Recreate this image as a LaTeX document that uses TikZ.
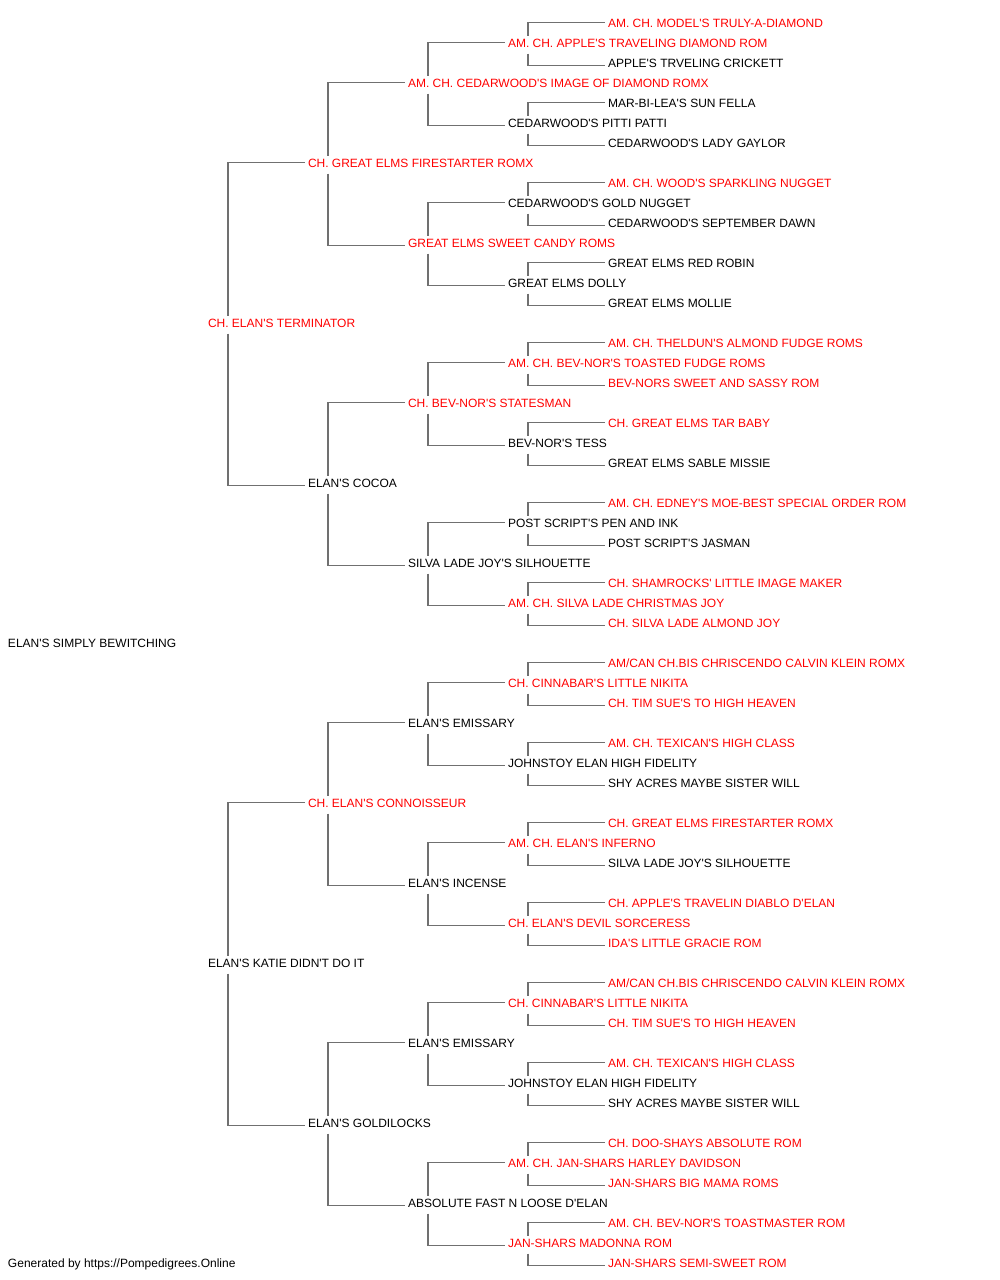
\documentclass[tikz,border=0pt]{standalone}
\usepackage{fontspec}
\setmainfont{Liberation Sans}
\newfontfamily\pfont{Liberation Sans}
\definecolor{lngray}{RGB}{112,112,112}
\definecolor{nmred}{RGB}{255,0,0}
\newcommand\pedconn[3]{%
  \draw[conn] ([shift={(20pt,8pt)}]#1.west) |- ([shift={(-3pt,1pt)}]#2.west);
  \draw[conn] ([shift={(20pt,-10pt)}]#1.west) |- ([shift={(-3pt,-2pt)}]#3.west);}
\begin{document}
\begin{tikzpicture}[x=1pt,y=-1pt,
  bk/.style={anchor=west, inner sep=0pt, outer sep=0pt, font=\pfont\fontsize{12}{14}\selectfont, text height=8.6pt, text depth=0pt, text=black},
  rd/.style={bk, text=nmred},
  conn/.style={draw=lngray, line width=1.4pt}]
\useasboundingbox[fill=white] (0,0) rectangle (1000,1280);
% root
\node[bk] (r) at (8,643.5) {ELAN'S SIMPLY BEWITCHING};
% gen 1
\node[rd] (a1) at (208,323.5) {CH. ELAN'S TERMINATOR};
\node[bk] (a2) at (208,963.5) {ELAN'S KATIE DIDN'T DO IT};
% gen 2
\node[rd] (b1) at (308,163.5) {CH. GREAT ELMS FIRESTARTER ROMX};
\node[bk] (b2) at (308,483.5) {ELAN'S COCOA};
\node[rd] (b3) at (308,803.5) {CH. ELAN'S CONNOISSEUR};
\node[bk] (b4) at (308,1123.5) {ELAN'S GOLDILOCKS};
% gen 3
\node[rd] (c1) at (408,83.5) {AM. CH. CEDARWOOD'S IMAGE OF DIAMOND ROMX};
\node[rd] (c2) at (408,243.5) {GREAT ELMS SWEET CANDY ROMS};
\node[rd] (c3) at (408,403.5) {CH. BEV-NOR'S STATESMAN};
\node[bk] (c4) at (408,563.5) {SILVA LADE JOY'S SILHOUETTE};
\node[bk] (c5) at (408,723.5) {ELAN'S EMISSARY};
\node[bk] (c6) at (408,883.5) {ELAN'S INCENSE};
\node[bk] (c7) at (408,1043.5) {ELAN'S EMISSARY};
\node[bk] (c8) at (408,1203.5) {ABSOLUTE FAST N LOOSE D'ELAN};
% gen 4
\node[rd] (d1) at (508,43.5) {AM. CH. APPLE'S TRAVELING DIAMOND ROM};
\node[bk] (d2) at (508,123.5) {CEDARWOOD'S PITTI PATTI};
\node[bk] (d3) at (508,203.5) {CEDARWOOD'S GOLD NUGGET};
\node[bk] (d4) at (508,283.5) {GREAT ELMS DOLLY};
\node[rd] (d5) at (508,363.5) {AM. CH. BEV-NOR'S TOASTED FUDGE ROMS};
\node[bk] (d6) at (508,443.5) {BEV-NOR'S TESS};
\node[bk] (d7) at (508,523.5) {POST SCRIPT'S PEN AND INK};
\node[rd] (d8) at (508,603.5) {AM. CH. SILVA LADE CHRISTMAS JOY};
\node[rd] (d9) at (508,683.5) {CH. CINNABAR'S LITTLE NIKITA};
\node[bk] (d10) at (508,763.5) {JOHNSTOY ELAN HIGH FIDELITY};
\node[rd] (d11) at (508,843.5) {AM. CH. ELAN'S INFERNO};
\node[rd] (d12) at (508,923.5) {CH. ELAN'S DEVIL SORCERESS};
\node[rd] (d13) at (508,1003.5) {CH. CINNABAR'S LITTLE NIKITA};
\node[bk] (d14) at (508,1083.5) {JOHNSTOY ELAN HIGH FIDELITY};
\node[rd] (d15) at (508,1163.5) {AM. CH. JAN-SHARS HARLEY DAVIDSON};
\node[rd] (d16) at (508,1243.5) {JAN-SHARS MADONNA ROM};
% gen 5
\node[rd] (e1) at (608,23.5) {AM. CH. MODEL'S TRULY-A-DIAMOND};
\node[bk] (e2) at (608,63.5) {APPLE'S TRVELING CRICKETT};
\node[bk] (e3) at (608,103.5) {MAR-BI-LEA'S SUN FELLA};
\node[bk] (e4) at (608,143.5) {CEDARWOOD'S LADY GAYLOR};
\node[rd] (e5) at (608,183.5) {AM. CH. WOOD'S SPARKLING NUGGET};
\node[bk] (e6) at (608,223.5) {CEDARWOOD'S SEPTEMBER DAWN};
\node[bk] (e7) at (608,263.5) {GREAT ELMS RED ROBIN};
\node[bk] (e8) at (608,303.5) {GREAT ELMS MOLLIE};
\node[rd] (e9) at (608,343.5) {AM. CH. THELDUN'S ALMOND FUDGE ROMS};
\node[rd] (e10) at (608,383.5) {BEV-NORS SWEET AND SASSY ROM};
\node[rd] (e11) at (608,423.5) {CH. GREAT ELMS TAR BABY};
\node[bk] (e12) at (608,463.5) {GREAT ELMS SABLE MISSIE};
\node[rd] (e13) at (608,503.5) {AM. CH. EDNEY'S MOE-BEST SPECIAL ORDER ROM};
\node[bk] (e14) at (608,543.5) {POST SCRIPT'S JASMAN};
\node[rd] (e15) at (608,583.5) {CH. SHAMROCKS' LITTLE IMAGE MAKER};
\node[rd] (e16) at (608,623.5) {CH. SILVA LADE ALMOND JOY};
\node[rd] (e17) at (608,663.5) {AM/CAN CH.BIS CHRISCENDO CALVIN KLEIN ROMX};
\node[rd] (e18) at (608,703.5) {CH. TIM SUE'S TO HIGH HEAVEN};
\node[rd] (e19) at (608,743.5) {AM. CH. TEXICAN'S HIGH CLASS};
\node[bk] (e20) at (608,783.5) {SHY ACRES MAYBE SISTER WILL};
\node[rd] (e21) at (608,823.5) {CH. GREAT ELMS FIRESTARTER ROMX};
\node[bk] (e22) at (608,863.5) {SILVA LADE JOY'S SILHOUETTE};
\node[rd] (e23) at (608,903.5) {CH. APPLE'S TRAVELIN DIABLO D'ELAN};
\node[rd] (e24) at (608,943.5) {IDA'S LITTLE GRACIE ROM};
\node[rd] (e25) at (608,983.5) {AM/CAN CH.BIS CHRISCENDO CALVIN KLEIN ROMX};
\node[rd] (e26) at (608,1023.5) {CH. TIM SUE'S TO HIGH HEAVEN};
\node[rd] (e27) at (608,1063.5) {AM. CH. TEXICAN'S HIGH CLASS};
\node[bk] (e28) at (608,1103.5) {SHY ACRES MAYBE SISTER WILL};
\node[rd] (e29) at (608,1143.5) {CH. DOO-SHAYS ABSOLUTE ROM};
\node[rd] (e30) at (608,1183.5) {JAN-SHARS BIG MAMA ROMS};
\node[rd] (e31) at (608,1223.5) {AM. CH. BEV-NOR'S TOASTMASTER ROM};
\node[rd] (e32) at (608,1263.5) {JAN-SHARS SEMI-SWEET ROM};
% footer
\node[bk] (foot) at (8,1263.5) {Generated by https://Pompedigrees.Online};
% connectors
\foreach \i in {1,2}{\pgfmathtruncatemacro\j{2*\i-1}\pgfmathtruncatemacro\k{2*\i}\pedconn{a\i}{b\j}{b\k}}
\foreach \i in {1,...,4}{\pgfmathtruncatemacro\j{2*\i-1}\pgfmathtruncatemacro\k{2*\i}\pedconn{b\i}{c\j}{c\k}}
\foreach \i in {1,...,8}{\pgfmathtruncatemacro\j{2*\i-1}\pgfmathtruncatemacro\k{2*\i}\pedconn{c\i}{d\j}{d\k}}
\foreach \i in {1,...,16}{\pgfmathtruncatemacro\j{2*\i-1}\pgfmathtruncatemacro\k{2*\i}\pedconn{d\i}{e\j}{e\k}}
\end{tikzpicture}
\end{document}
